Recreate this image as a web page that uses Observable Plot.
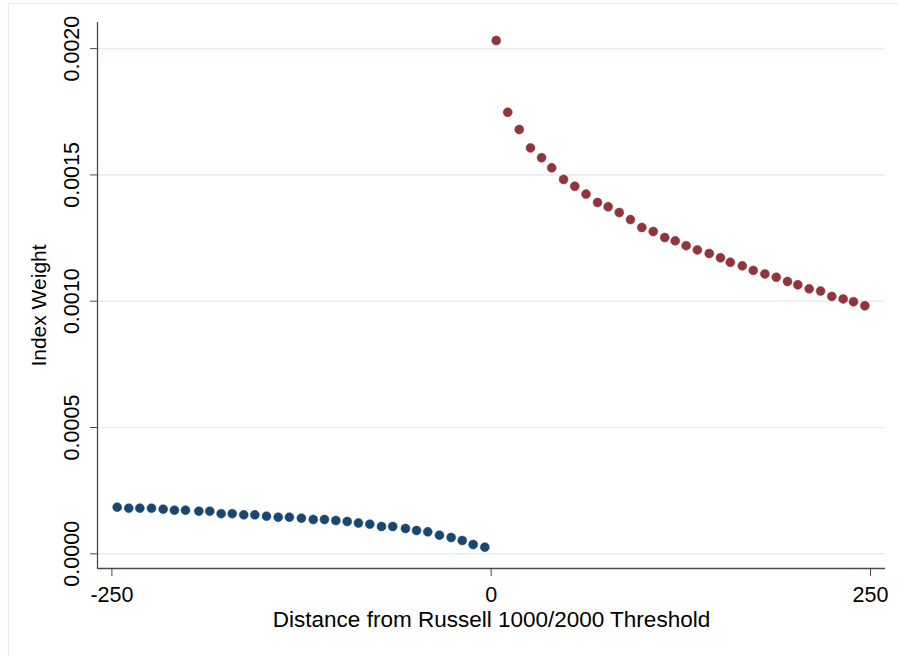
<!DOCTYPE html>
<html><head><meta charset="utf-8">
<script src="https://cdn.jsdelivr.net/npm/d3@7"></script>
<script src="https://cdn.jsdelivr.net/npm/@observablehq/plot@0.6"></script>
<style>
body{margin:0;background:#fff;}
#wrap{position:relative;width:899px;height:656px;overflow:hidden;background:#fff;}
#border{position:absolute;left:8px;top:3px;width:900px;height:660px;border:1px solid #e4edf0;box-sizing:border-box;pointer-events:none}
svg{display:block}
</style></head><body><div id="wrap"><div id="border"></div></div>
<script>
// Below threshold (Russell 1000 side)
const belowX = [-246.5,-238.9,-231.6,-223.9,-216.2,-208.8,-201.5,-192.7,-185.5,-178.0,-170.7,-163.1,-155.8,-148.1,-140.4,-133.0,-125.1,-117.3,-109.9,-102.4,-94.9,-87.5,-80.0,-72.3,-64.9,-56.5,-49.2,-41.8,-34.1,-26.4,-19.1,-11.9,-4.2];
const belowY = [0.0001846,0.0001807,0.0001807,0.0001807,0.0001767,0.0001727,0.0001727,0.0001688,0.0001688,0.000159,0.000159,0.0001543,0.0001543,0.000149,0.000145,0.000145,0.000141,0.0001358,0.0001358,0.0001318,0.0001279,0.000122,0.0001173,0.0001081,0.0001081,0.0001002,0.0000922,0.000087,0.0000738,0.0000645,0.0000527,0.0000368,0.0000263];
// Above threshold (Russell 2000 side)
const aboveX = [3.3,10.9,18.5,25.9,33.2,39.9,47.7,55.1,62.5,70.1,77.1,84.4,91.8,99.3,106.8,114.4,121.3,128.5,135.9,143.7,151.1,157.6,165.5,172.7,180.4,187.9,195.3,202.1,209.6,217.1,224.5,232.0,238.8,246.3];
const aboveY = [0.002032,0.001748,0.00168,0.001607,0.001568,0.001528,0.001482,0.001455,0.001424,0.001391,0.001374,0.001351,0.001323,0.001292,0.001276,0.001252,0.001239,0.00122,0.001203,0.001189,0.001172,0.001154,0.00114,0.001122,0.001108,0.001095,0.001078,0.001065,0.001049,0.00104,0.001019,0.001009,0.000998,0.000982];
const xTicks = [-250, 0, 250];
const yTicks = [0, 0.0005, 0.001, 0.0015, 0.002];
const xTitle = "Distance from Russell 1000/2000 Threshold";
const yTitle = "Index Weight";
const xDomain = [-259.5, 259.9];
const yDomain = [-0.0000582, 0.0021034];

const below = belowX.map((x, i) => ({x, y: belowY[i]}));
const above = aboveX.map((x, i) => ({x, y: aboveY[i]}));

const chart = Plot.plot({
  width: 899,
  height: 656,
  marginLeft: 97,
  marginRight: 14,
  marginTop: 22,
  marginBottom: 88,
  style: {fontFamily: "Arial, 'Liberation Sans', sans-serif", fontSize: "21px", color: "#000", background: "transparent"},
  x: {domain: xDomain},
  y: {domain: yDomain},
  marks: [
    Plot.gridY(yTicks, {stroke: "#e6eef1", strokeOpacity: 1, strokeWidth: 1.6}),
    Plot.ruleX([xDomain[0]], {stroke: "#4a4a4a", strokeWidth: 1.3}),
    Plot.ruleY([yDomain[0]], {stroke: "#4a4a4a", strokeWidth: 1.3}),
    Plot.axisX({ticks: xTicks, tickSize: 8, tickPadding: 10, tickFormat: d => d < 0 ? "-" + Math.abs(d) : String(d), stroke: "#4a4a4a", label: null, fontSize: 21.5}),
    Plot.axisY({ticks: yTicks, tickSize: 7, tickPadding: 12, tickRotate: -90, tickFormat: d => d.toFixed(4), stroke: "#4a4a4a", label: null, fontSize: 21.5}),
    Plot.text([xTitle], {frameAnchor: "bottom", dy: 58, lineAnchor: "bottom", fontSize: 22.5, fill: "#000"}),
    Plot.text([yTitle], {frameAnchor: "left", dx: -52, dy: 10, rotate: -90, textAnchor: "middle", lineAnchor: "bottom", fontSize: 21, fill: "#000"}),
    Plot.dot(below, {x: "x", y: "y", r: 4.5, fill: "#1a476f", stroke: "#1a476f", strokeWidth: 0.5}),
    Plot.dot(above, {x: "x", y: "y", r: 4.5, fill: "#90353b", stroke: "#90353b", strokeWidth: 0.5})
  ]
});
document.getElementById("wrap").appendChild(chart);
</script>
</body></html>
